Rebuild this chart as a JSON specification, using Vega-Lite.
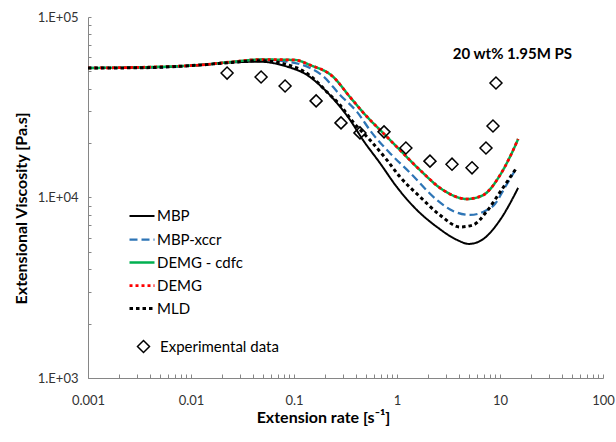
{
  "$schema": "https://vega.github.io/schema/vega-lite/v6.json",
  "width": 515,
  "height": 361,
  "autosize": {"type": "none"},
  "padding": {"left": 88, "top": 17, "right": 13, "bottom": 64},
  "background": "white",
  "config": {
    "view": {"stroke": null},
    "font": "Lato",
    "axis": {"grid": false, "domainColor": "#868686", "tickColor": "#868686", "labelColor": "#333333", "labelFont": "Lato", "labelFontSize": 13, "titleFont": "Lato", "titleFontSize": 16, "titleFontWeight": "bold", "titleColor": "#000000", "labelOverlap": false, "labelFlush": false}
  },
  "datasets": {
    "curves": [
      {"series": "MBP", "rate": 0.001, "visc": 52200},
      {"series": "MBP", "rate": 0.003, "visc": 52300},
      {"series": "MBP", "rate": 0.0122, "visc": 54200},
      {"series": "MBP", "rate": 0.025, "visc": 56000},
      {"series": "MBP", "rate": 0.0468, "visc": 56500},
      {"series": "MBP", "rate": 0.0855, "visc": 53100},
      {"series": "MBP", "rate": 0.134, "visc": 47700},
      {"series": "MBP", "rate": 0.191, "visc": 40400},
      {"series": "MBP", "rate": 0.261, "visc": 33400},
      {"series": "MBP", "rate": 0.35, "visc": 26900},
      {"series": "MBP", "rate": 0.468, "visc": 20800},
      {"series": "MBP", "rate": 0.684, "visc": 15500},
      {"series": "MBP", "rate": 1.0, "visc": 11400},
      {"series": "MBP", "rate": 1.56, "visc": 8530},
      {"series": "MBP", "rate": 2.44, "visc": 6870},
      {"series": "MBP", "rate": 3.83, "visc": 5820},
      {"series": "MBP", "rate": 5.0, "visc": 5530},
      {"series": "MBP", "rate": 6.68, "visc": 5820},
      {"series": "MBP", "rate": 10, "visc": 7500},
      {"series": "MBP", "rate": 15, "visc": 11300},
      {"series": "MBP-xccr", "rate": 0.001, "visc": 52200},
      {"series": "MBP-xccr", "rate": 0.003, "visc": 52300},
      {"series": "MBP-xccr", "rate": 0.0122, "visc": 54200},
      {"series": "MBP-xccr", "rate": 0.025, "visc": 56300},
      {"series": "MBP-xccr", "rate": 0.0468, "visc": 58100},
      {"series": "MBP-xccr", "rate": 0.0914, "visc": 56300},
      {"series": "MBP-xccr", "rate": 0.143, "visc": 52200},
      {"series": "MBP-xccr", "rate": 0.191, "visc": 47100},
      {"series": "MBP-xccr", "rate": 0.28, "visc": 37000},
      {"series": "MBP-xccr", "rate": 0.409, "visc": 29800},
      {"series": "MBP-xccr", "rate": 0.571, "visc": 22800},
      {"series": "MBP-xccr", "rate": 0.855, "visc": 17600},
      {"series": "MBP-xccr", "rate": 1.34, "visc": 13700},
      {"series": "MBP-xccr", "rate": 2.44, "visc": 9690},
      {"series": "MBP-xccr", "rate": 3.5, "visc": 8420},
      {"series": "MBP-xccr", "rate": 5.11, "visc": 8000},
      {"series": "MBP-xccr", "rate": 7.15, "visc": 8420},
      {"series": "MBP-xccr", "rate": 8.94, "visc": 9210},
      {"series": "MBP-xccr", "rate": 11.2, "visc": 11400},
      {"series": "MBP-xccr", "rate": 14.6, "visc": 14700},
      {"series": "DEMG - cdfc", "rate": 0.001, "visc": 52200},
      {"series": "DEMG - cdfc", "rate": 0.004, "visc": 52800},
      {"series": "DEMG - cdfc", "rate": 0.0122, "visc": 54200},
      {"series": "DEMG - cdfc", "rate": 0.0256, "visc": 56500},
      {"series": "DEMG - cdfc", "rate": 0.0468, "visc": 58100},
      {"series": "DEMG - cdfc", "rate": 0.102, "visc": 57800},
      {"series": "DEMG - cdfc", "rate": 0.143, "visc": 54200},
      {"series": "DEMG - cdfc", "rate": 0.239, "visc": 46700},
      {"series": "DEMG - cdfc", "rate": 0.35, "visc": 36000},
      {"series": "DEMG - cdfc", "rate": 0.512, "visc": 28000},
      {"series": "DEMG - cdfc", "rate": 0.731, "visc": 22800},
      {"series": "DEMG - cdfc", "rate": 1.07, "visc": 18300},
      {"series": "DEMG - cdfc", "rate": 1.67, "visc": 14200},
      {"series": "DEMG - cdfc", "rate": 2.8, "visc": 11000},
      {"series": "DEMG - cdfc", "rate": 4.78, "visc": 9810},
      {"series": "DEMG - cdfc", "rate": 6.84, "visc": 10300},
      {"series": "DEMG - cdfc", "rate": 10, "visc": 13300},
      {"series": "DEMG - cdfc", "rate": 12.5, "visc": 16800},
      {"series": "DEMG - cdfc", "rate": 15, "visc": 21100},
      {"series": "DEMG", "rate": 0.001, "visc": 52200},
      {"series": "DEMG", "rate": 0.004, "visc": 52800},
      {"series": "DEMG", "rate": 0.0122, "visc": 54200},
      {"series": "DEMG", "rate": 0.0256, "visc": 56500},
      {"series": "DEMG", "rate": 0.0468, "visc": 58100},
      {"series": "DEMG", "rate": 0.102, "visc": 57800},
      {"series": "DEMG", "rate": 0.143, "visc": 54200},
      {"series": "DEMG", "rate": 0.239, "visc": 46700},
      {"series": "DEMG", "rate": 0.35, "visc": 36000},
      {"series": "DEMG", "rate": 0.512, "visc": 28000},
      {"series": "DEMG", "rate": 0.731, "visc": 22800},
      {"series": "DEMG", "rate": 1.07, "visc": 18300},
      {"series": "DEMG", "rate": 1.67, "visc": 14200},
      {"series": "DEMG", "rate": 2.8, "visc": 11000},
      {"series": "DEMG", "rate": 4.78, "visc": 9810},
      {"series": "DEMG", "rate": 6.84, "visc": 10300},
      {"series": "DEMG", "rate": 10, "visc": 13300},
      {"series": "DEMG", "rate": 12.5, "visc": 16800},
      {"series": "DEMG", "rate": 15, "visc": 21100},
      {"series": "MLD", "rate": 0.001, "visc": 52200},
      {"series": "MLD", "rate": 0.003, "visc": 52300},
      {"series": "MLD", "rate": 0.0122, "visc": 54200},
      {"series": "MLD", "rate": 0.025, "visc": 56000},
      {"series": "MLD", "rate": 0.0468, "visc": 57300},
      {"series": "MLD", "rate": 0.107, "visc": 52200},
      {"series": "MLD", "rate": 0.153, "visc": 45900},
      {"series": "MLD", "rate": 0.209, "visc": 38400},
      {"series": "MLD", "rate": 0.28, "visc": 32500},
      {"series": "MLD", "rate": 0.374, "visc": 26200},
      {"series": "MLD", "rate": 0.547, "visc": 20800},
      {"series": "MLD", "rate": 0.8, "visc": 16100},
      {"series": "MLD", "rate": 1.07, "visc": 13000},
      {"series": "MLD", "rate": 1.67, "visc": 10100},
      {"series": "MLD", "rate": 2.61, "visc": 8000},
      {"series": "MLD", "rate": 4.09, "visc": 6870},
      {"series": "MLD", "rate": 5.47, "visc": 7040},
      {"series": "MLD", "rate": 7.48, "visc": 8420},
      {"series": "MLD", "rate": 10, "visc": 10700},
      {"series": "MLD", "rate": 14.6, "visc": 14700}
    ],
    "exp": [
      {"kind": "Experimental data", "rate": 0.0224, "visc": 48900},
      {"kind": "Experimental data", "rate": 0.0479, "visc": 46500},
      {"kind": "Experimental data", "rate": 0.0819, "visc": 41500},
      {"kind": "Experimental data", "rate": 0.164, "visc": 34300},
      {"kind": "Experimental data", "rate": 0.286, "visc": 25900},
      {"kind": "Experimental data", "rate": 0.437, "visc": 22800},
      {"kind": "Experimental data", "rate": 0.748, "visc": 23100},
      {"kind": "Experimental data", "rate": 1.22, "visc": 18800},
      {"kind": "Experimental data", "rate": 2.09, "visc": 15900},
      {"kind": "Experimental data", "rate": 3.42, "visc": 15300},
      {"kind": "Experimental data", "rate": 5.35, "visc": 14600},
      {"kind": "Experimental data", "rate": 7.31, "visc": 18800},
      {"kind": "Experimental data", "rate": 8.55, "visc": 24900},
      {"kind": "Experimental data", "rate": 9.14, "visc": 43100}
    ],
    "note": [
      {"rate": 13.2, "visc": 62000, "label": "20 wt% 1.95M PS"}
    ]
  },
  "layer": [
    {
      "data": {"name": "curves"},
      "mark": {"type": "line", "interpolate": "monotone", "strokeCap": "butt"},
      "encoding": {
        "x": {
          "field": "rate", "type": "quantitative",
          "scale": {"type": "log", "domain": [0.001, 100], "nice": false},
          "axis": {
            "title": "Extension rate [s⁻¹]",
            "values": [0.001,0.002,0.003,0.004,0.005,0.006,0.007,0.008,0.009,0.01,0.02,0.03,0.04,0.05,0.06,0.07,0.08,0.09,0.1,0.2,0.3,0.4,0.5,0.6,0.7,0.8,0.9,1,2,3,4,5,6,7,8,9,10,20,30,40,50,60,70,80,90,100],
            "labelExpr": "datum.value == 0.001 ? '0.001' : datum.value == 0.01 ? '0.01' : datum.value == 0.1 ? '0.1' : datum.value == 1 ? '1' : datum.value == 10 ? '10' : datum.value == 100 ? '100' : ''",
            "tickSize": -4,
            "labelPadding": 20,
            "titleX": 235,
            "titleY": 39,
            "titleAlign": "center",
            "titleBaseline": "middle"
          }
        },
        "y": {
          "field": "visc", "type": "quantitative",
          "scale": {"type": "log", "domain": [1000, 100000], "nice": false},
          "axis": {
            "title": "Extensional Viscosity [Pa.s]",
            "values": [1000,2000,3000,4000,5000,6000,7000,8000,9000,10000,20000,30000,40000,50000,60000,70000,80000,90000,100000],
            "labelExpr": "datum.value == 1000 ? '1.E+03' : datum.value == 10000 ? '1.E+04' : datum.value == 100000 ? '1.E+05' : ''",
            "tickSize": -3,
            "labelPadding": 13,
            "titleX": -67,
            "titleY": 191,
            "titleAlign": "center",
            "titleBaseline": "middle"
          }
        },
        "color": {
          "field": "series", "type": "nominal",
          "scale": {"domain": ["MBP", "MBP-xccr", "DEMG - cdfc", "DEMG", "MLD"], "range": ["#000000", "#2e75b6", "#00b050", "#ff0000", "#000000"]},
          "legend": {"title": null, "orient": "none", "legendX": 40, "legendY": 185.5, "padding": 0, "symbolType": "stroke", "symbolSize": 625, "symbolStrokeWidth": 3, "labelFontSize": 15, "labelFont": "Lato", "labelColor": "#000000", "rowPadding": 1, "labelOffset": 1}
        },
        "strokeDash": {
          "field": "series", "type": "nominal",
          "scale": {"domain": ["MBP", "MBP-xccr", "DEMG - cdfc", "DEMG", "MLD"], "range": [[1, 0], [8, 4], [1, 0], [3, 3], [3.5, 3]]},
          "legend": {"title": null, "orient": "none", "legendX": 40, "legendY": 185.5, "padding": 0, "symbolType": "stroke", "symbolSize": 625, "symbolStrokeWidth": 3, "labelFontSize": 15, "labelFont": "Lato", "labelColor": "#000000", "rowPadding": 1, "labelOffset": 1}
        },
        "strokeWidth": {
          "field": "series", "type": "nominal",
          "scale": {"domain": ["MBP", "MBP-xccr", "DEMG - cdfc", "DEMG", "MLD"], "range": [2, 3, 3.2, 3, 3.5]},
          "legend": null
        }
      }
    },
    {
      "data": {"name": "exp"},
      "mark": {"type": "point", "filled": false, "stroke": "#000000", "strokeWidth": 1.5, "size": 144, "opacity": 1},
      "encoding": {
        "x": {"field": "rate", "type": "quantitative"},
        "y": {"field": "visc", "type": "quantitative"},
        "shape": {
          "field": "kind", "type": "nominal",
          "scale": {"domain": ["Experimental data"], "range": ["diamond"]},
          "legend": {"title": null, "orient": "none", "legendX": 48, "legendY": 322, "padding": 0, "symbolSize": 144, "symbolStrokeColor": "#000000", "symbolStrokeWidth": 1.5, "symbolFillColor": "transparent", "labelFontSize": 15, "labelFont": "Lato", "labelColor": "#000000", "labelOffset": 9}
        }
      }
    },
    {
      "data": {"name": "note"},
      "mark": {"type": "text", "font": "Lato", "fontSize": 15, "fontWeight": "bold", "align": "center", "baseline": "middle", "color": "#000000"},
      "encoding": {
        "x": {"field": "rate", "type": "quantitative"},
        "y": {"field": "visc", "type": "quantitative"},
        "text": {"field": "label"}
      }
    }
  ]
}
